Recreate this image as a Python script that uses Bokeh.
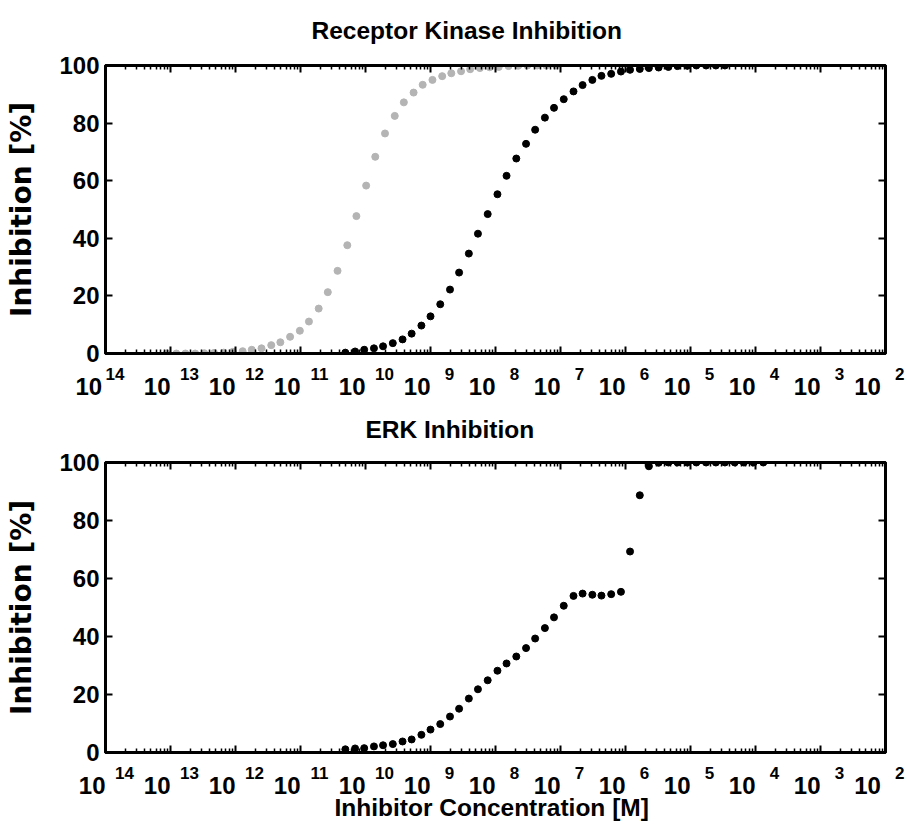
import numpy as np
from bokeh.plotting import figure
from bokeh.models import (ColumnDataSource, FixedTicker, LogAxis, LinearAxis,
                          Range1d, Title)
from bokeh.layouts import column
from bokeh.embed import file_html
from bokeh.resources import INLINE

# ---------------- data ----------------
# log10 of inhibitor concentration [M]
rk_gray_logx = [-13.06, -12.91, -12.77, -12.62, -12.48, -12.33, -12.18, -12.04,
                -11.89, -11.75, -11.60, -11.45, -11.31, -11.16, -11.01, -10.87,
                -10.72, -10.58, -10.43, -10.28, -10.14, -9.99, -9.85, -9.70,
                -9.55, -9.41, -9.26, -9.12, -8.97, -8.82, -8.68, -8.53, -8.39,
                -8.24, -8.09, -7.95, -7.80, -7.65, -7.51, -7.36, -7.22, -7.07]
rk_gray_y = [0, 0, 0, 0, 0.1, 0.2, 0.3, 0.6, 0.8, 1.3, 1.8, 2.9, 3.9, 5.8, 7.9,
             11.1, 15.6, 21.3, 28.7, 37.6, 47.7, 58.3, 68.3, 76.4, 82.5, 87.2,
             90.6, 93.3, 95.0, 96.3, 97.3, 98.0, 98.7, 99.1, 99.4, 99.5, 99.8,
             99.9, 100, 100, 100, 100]

rk_black_logx = [-10.31, -10.16, -10.02, -9.87, -9.73, -9.58, -9.43, -9.29,
                 -9.14, -9.00, -8.85, -8.70, -8.56, -8.41, -8.27, -8.12, -7.97,
                 -7.83, -7.68, -7.53, -7.39, -7.24, -7.10, -6.95, -6.80, -6.66,
                 -6.51, -6.37, -6.22, -6.07, -5.93, -5.78, -5.64, -5.49, -5.34,
                 -5.20, -5.05, -4.91, -4.76, -4.61, -4.47]
rk_black_y = [0.3, 0.7, 1.3, 1.8, 2.5, 3.6, 4.9, 6.9, 9.7, 12.9, 17.1, 22.2,
              28.1, 34.7, 41.6, 48.4, 55.3, 61.7, 67.7, 72.8, 77.7, 81.9, 85.3,
              88.3, 91.0, 93.2, 95.0, 96.4, 97.1, 97.9, 98.5, 98.8, 99.1, 99.3,
              99.5, 99.8, 99.9, 100, 100, 100, 100]

erk_logx = [-10.31, -10.16, -10.02, -9.87, -9.73, -9.58, -9.43, -9.29, -9.14,
            -9.00, -8.85, -8.70, -8.56, -8.41, -8.27, -8.12, -7.97, -7.83,
            -7.68, -7.53, -7.39, -7.24, -7.10, -6.95, -6.80, -6.66, -6.51,
            -6.37, -6.22, -6.07, -5.93, -5.78, -5.64, -5.49, -5.34, -5.20,
            -5.05, -4.91, -4.76, -4.61, -4.47, -4.32, -4.18, -4.03, -3.88]
erk_y = [1.1, 1.4, 1.5, 2.1, 2.5, 2.9, 3.8, 4.5, 6.1, 7.9, 9.8, 12.4, 15.1,
         18.6, 21.8, 24.9, 28.2, 30.7, 33.1, 36.0, 39.3, 42.9, 46.6, 50.6,
         54.0, 54.8, 54.4, 54.1, 54.6, 55.4, 69.3, 88.7, 98.7, 99.9, 100, 100,
         100, 100, 100, 100, 100, 100, 100, 100, 100]

x_decades = [-14, -13, -12, -11, -10, -9, -8, -7, -6, -5, -4, -3, -2]
x_tick_base = "10"
x_tick_exps = ["14", "13", "12", "11", "10", "9", "8", "7", "6", "5", "4", "3", "2"]
y_ticks = [0, 20, 40, 60, 80, 100]

title_top = "Receptor Kinase Inhibition"
title_bottom = "ERK Inhibition"
y_label = "Inhibition [%]"
x_label = "Inhibitor Concentration [M]"

GRAY = "#b4b4b4"
BLACK = "#000000"
FONT = "Liberation Sans"
NB = "\u00a0"

major_x = [float(f"1e{d}") for d in x_decades]
minor_x = [k * float(f"1e{d}") for d in x_decades[:-1] for k in range(2, 10)]


def style_axis(ax, show_labels, hidden_standoff=0, blank_ticks=None):
    ax.axis_line_width = 3
    ax.axis_line_color = "black"
    ax.major_tick_in = 7
    ax.major_tick_out = 0
    ax.major_tick_line_width = 2
    ax.minor_tick_in = 4
    ax.minor_tick_out = 0
    ax.minor_tick_line_width = 1.5
    if not show_labels:
        ax.major_label_text_font_size = "1px"
        ax.major_label_standoff = hidden_standoff
        if blank_ticks is not None:
            ax.major_label_overrides = {t: NB for t in blank_ticks}
            ax.major_label_text_color = "black"
        else:
            ax.major_label_text_color = None


def make_panel(title, title_left, top_gap, height, top_b, bottom_b, series,
               tight_first):
    p = figure(width=907, height=height, x_axis_type="log",
               x_range=Range1d(1e-14, 1e-2), y_range=Range1d(0, 100),
               output_backend="svg", toolbar_location=None,
               min_border_left=105, min_border_right=22,
               min_border_top=top_b, min_border_bottom=bottom_b)
    p.grid.visible = False
    p.outline_line_color = "black"
    p.outline_line_width = 3
    p.background_fill_color = "white"
    p.border_fill_color = "white"

    p.title = Title(text=title, align="left", offset=title_left, standoff=2,
                    text_font=FONT, text_font_style="bold",
                    text_font_size="24.5px", text_color="black")

    # bottom x axis: ticks + exponent labels
    xa = p.xaxis[0]
    xa.ticker = FixedTicker(ticks=major_x, minor_ticks=minor_x)
    style_axis(xa, True)
    exp_over = {}
    base_over = {}
    for i, (v, e) in enumerate(zip(major_x, x_tick_exps)):
        n_e, n_b = 8, 4
        if tight_first and i == 0:
            n_e, n_b = 4, 5
        if i == len(major_x) - 1:
            n_e = 6
        exp_over[v] = NB * n_e + e
        base_over[v] = x_tick_base + NB * n_b
    xa.major_label_overrides = exp_over
    xa.major_label_text_font = FONT
    xa.major_label_text_font_style = "bold"
    xa.major_label_text_font_size = "17px"
    xa.major_label_text_color = "black"
    xa.major_label_standoff = 11

    # second bottom axis carrying the "10" bases
    xb = LogAxis(ticker=FixedTicker(ticks=major_x, minor_ticks=[]))
    xb.axis_line_color = None
    xb.major_tick_line_color = None
    xb.minor_tick_line_color = None
    xb.major_tick_in = 0
    xb.major_tick_out = 0
    xb.major_label_overrides = base_over
    xb.major_label_text_font = FONT
    xb.major_label_text_font_style = "bold"
    xb.major_label_text_font_size = "24px"
    xb.major_label_text_color = "black"
    xb.major_label_standoff = -14
    p.add_layout(xb, "below")

    # left y axis
    ya = p.yaxis[0]
    ya.ticker = FixedTicker(ticks=y_ticks, minor_ticks=[])
    style_axis(ya, True)
    ya.major_label_text_font = FONT
    ya.major_label_text_font_style = "bold"
    ya.major_label_text_font_size = "24px"
    ya.major_label_text_color = "black"
    ya.major_label_standoff = 6
    ya.axis_label = y_label
    ya.axis_label_text_font = "DejaVu Sans"
    ya.axis_label_text_font_style = "bold"
    ya.axis_label_text_font_size = "28px"
    ya.axis_label_text_color = "black"
    ya.axis_label_standoff = 18

    # mirrored axes (the top one also leaves room under the title)
    top_ax = LogAxis(ticker=FixedTicker(ticks=major_x, minor_ticks=minor_x))
    style_axis(top_ax, False, hidden_standoff=top_gap, blank_ticks=major_x)
    p.add_layout(top_ax, "above")
    right_ax = LinearAxis(ticker=FixedTicker(ticks=y_ticks, minor_ticks=[]))
    style_axis(right_ax, False)
    p.add_layout(right_ax, "right")

    for logx, yv, col in series:
        src = ColumnDataSource(dict(x=[10.0 ** v for v in logx], y=yv))
        p.scatter("x", "y", source=src, size=7, marker="circle",
                  fill_color=col, line_color=col)
    return p


p1 = make_panel(title_top, 206, 17, 402, 65, 49,
                [(rk_gray_logx, rk_gray_y, GRAY),
                 (rk_black_logx, rk_black_y, BLACK)], True)
p2 = make_panel(title_bottom, 260, 15, 422, 60, 72,
                [(erk_logx, erk_y, BLACK)], False)
p2.add_layout(Title(text=x_label, align="left", offset=229, standoff=-20,
                    text_font=FONT, text_font_style="bold",
                    text_font_size="24.5px", text_color="black"), "below")

layout = column(p1, p2, spacing=0)
open("out.html", "w").write(file_html(layout, INLINE))
